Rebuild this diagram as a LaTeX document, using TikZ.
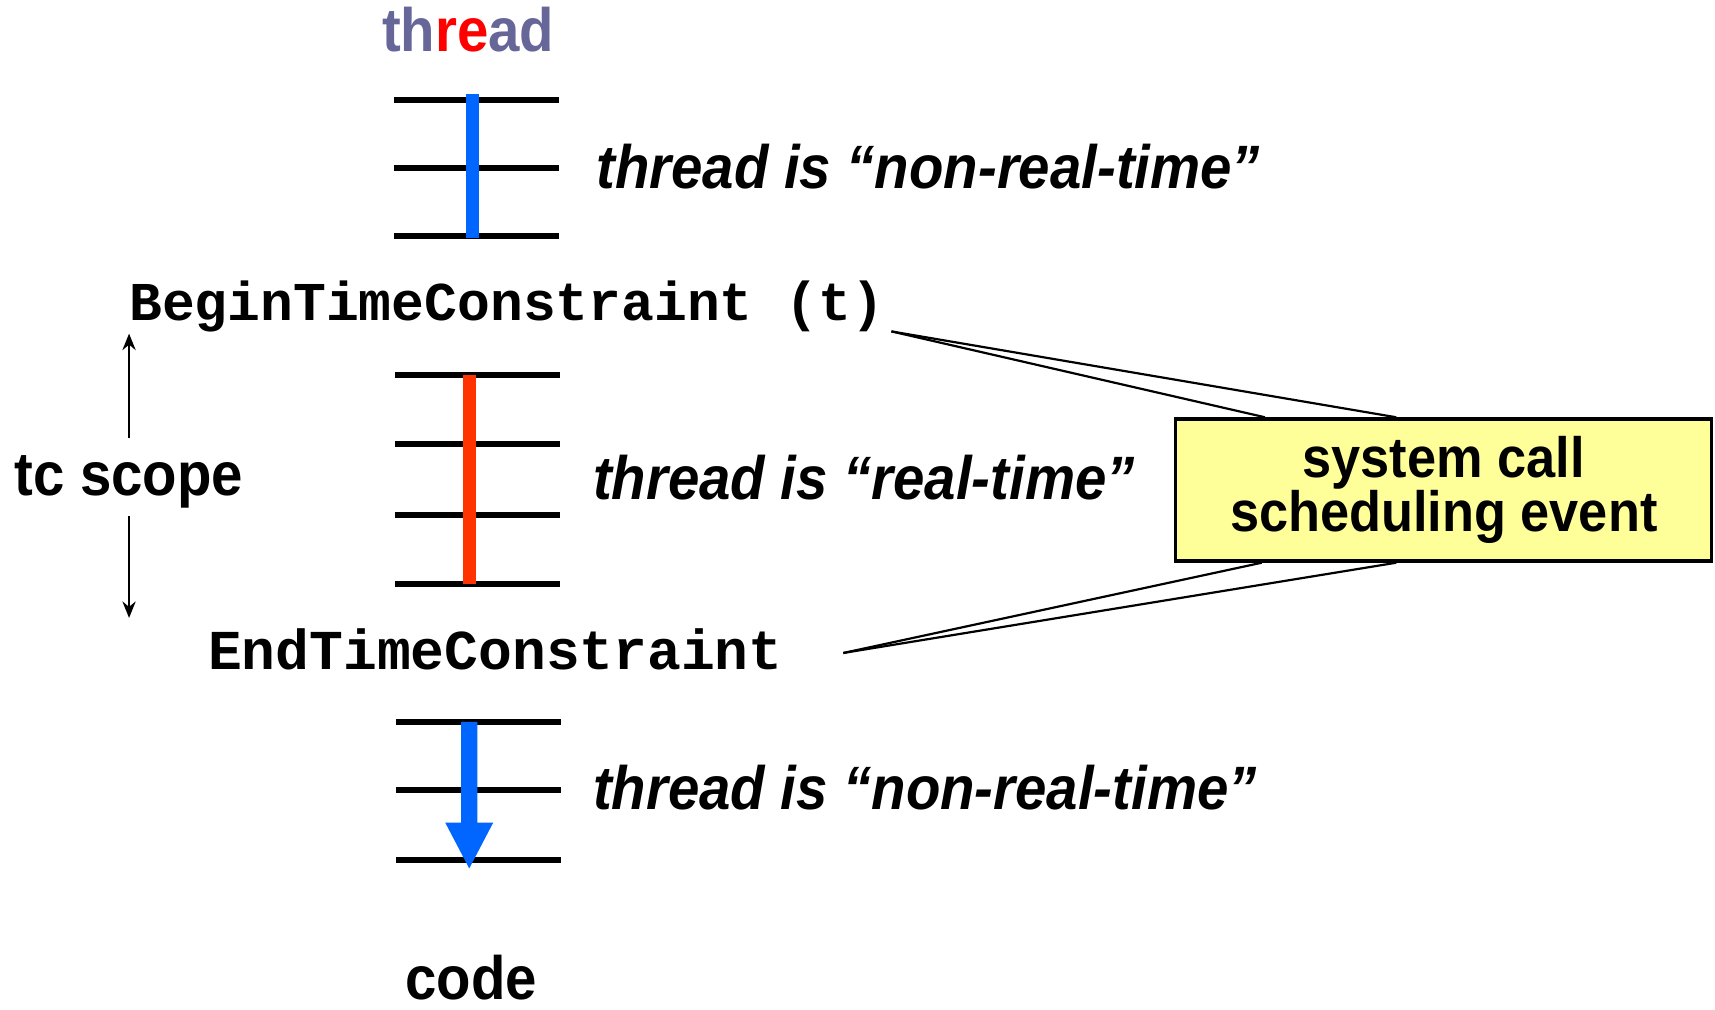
\documentclass[tikz,border=0pt]{standalone}
\usepackage{fontspec}
\setmainfont{Liberation Sans}
\newfontfamily\hv[FakeStretch=0.92]{Liberation Sans}
\newfontfamily\cour{Liberation Mono}
\usetikzlibrary{arrows.meta,calc}
\definecolor{slate}{HTML}{666699}
\definecolor{titlered}{HTML}{FF0000}
\definecolor{barblue}{HTML}{0066FF}
\definecolor{barred}{HTML}{FF3300}
\definecolor{boxyellow}{HTML}{FFFF99}
\begin{document}
\begin{tikzpicture}[x=1pt,y=-1pt,
  rung/.style={line width=5.5pt},
  lbl/.style={font=\hv\bfseries\itshape\fontsize{56}{60}\selectfont, anchor=base west, inner sep=0pt},
  codetxt/.style={font=\cour\bfseries\fontsize{50}{54}\selectfont, anchor=base west, inner sep=0pt},
  bigtext/.style={font=\hv\bfseries\fontsize{56}{60}\selectfont, anchor=base west, inner sep=0pt},
  callout/.style={line width=2pt},
  scopearrow/.style={line width=2.5pt, -{Stealth[length=15pt,width=12pt]}}]
\useasboundingbox (0,0) rectangle (1568,923);

% title
\node[bigtext, anchor=base] (title) at (428,47) {\textcolor{slate}{th}\textcolor{titlered}{re}\textcolor{slate}{ad}};

% top group
\foreach \y in {91,154,216} \draw[rung] (360,\y) -- (511,\y);
\draw[line width=12pt, barblue] (432,86) -- (432,218);
\node[lbl] (l1) at (545,172) {thread is “non-real-time”};

% begin
\node[codetxt] (btc) at (118,293) {BeginTimeConstraint (t)};

% middle group
\foreach \y in {343,406,471,534} \draw[rung] (361,\y) -- (512,\y);
\draw[line width=12pt, barred] (429,343) -- (429,534);
\node[lbl] (l2) at (542,457) {thread is “real-time”};

% tc scope
\node[bigtext] (tc) at (13,453) {tc scope};
\coordinate (s1) at (118,400);
\coordinate (s2) at (118,305);
\coordinate (s3) at (118,472);
\coordinate (s4) at (118,565);
\draw[scopearrow] (s1) -- (s2);
\draw[scopearrow] (s3) -- (s4);

% end
\node[codetxt, font=\cour\bfseries\fontsize{51.5}{54}\selectfont] (etc) at (190,612) {EndTimeConstraint};

% bottom group
\foreach \y in {660,722,786} \draw[rung] (362,\y) -- (513,\y);
\fill[barblue] (421.5,660) -- (436.5,660) -- (436.5,752) -- (451,752) -- (429,794) -- (407,752) -- (421.5,752) -- cycle;
\node[lbl] (l3) at (542,740) {thread is “non-real-time”};

\node[bigtext, anchor=base] (code) at (431,914) {code};

% box
\node[draw, line width=3pt, fill=boxyellow, minimum width=490pt, minimum height=130pt,
      font=\hv\bfseries\fontsize{52}{50}\selectfont, align=center, inner sep=0pt] (sys) at (1320,448)
      {system call\\scheduling event};

% callouts
\coordinate (b0) at (815,303);
\coordinate (e0) at (771,597);
\coordinate (t1) at ($(sys.north west)+(83,0)$);
\coordinate (t2) at ($(sys.north west)+(203,0)$);
\coordinate (u1) at ($(sys.south west)+(80,0)$);
\coordinate (u2) at ($(sys.south west)+(203,0)$);
\draw[callout] (b0) -- (t1);
\draw[callout] (b0) -- (t2);
\draw[callout] (e0) -- (u1);
\draw[callout] (e0) -- (u2);
\end{tikzpicture}
\end{document}
